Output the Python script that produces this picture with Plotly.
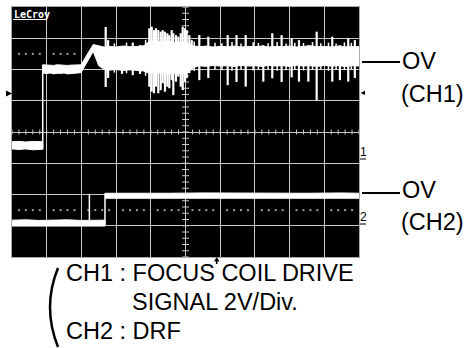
import plotly.graph_objects as go
import numpy as np

# ---------------- data (screen divisions: x 0..10, y -4..4) ----------------
# CH1 before trigger edge
ch1_pre_x = [0.0, 0.2, 0.4, 0.6, 0.885]
ch1_pre_hi = [-0.31, -0.30, -0.32, -0.30, -0.31]
ch1_pre_lo = [-0.54, -0.56, -0.54, -0.57, -0.55]

# CH1 after trigger edge: envelope of the noisy band
ch1_x = [0.885, 1.0, 1.1, 1.2, 1.3, 1.4, 1.5, 1.6, 1.7, 1.8, 1.9, 1.99, 2.34, 2.5, 2.68,
         2.8, 3.0, 3.2, 3.4, 3.6, 3.8, 3.95, 4.1, 4.3, 4.5, 4.7, 4.9, 5.1, 5.2, 5.4,
         5.6, 5.8, 6.0, 6.2, 6.4, 6.6, 6.8, 7.0, 7.2, 7.4, 7.6, 7.8, 8.0, 8.2, 8.4,
         8.6, 8.8, 9.0, 9.2, 9.4, 9.6, 9.8, 10.0]
ch1_hi = [2.15, 2.14, 2.15, 2.13, 2.15, 2.14, 2.15, 2.13, 2.14, 2.15, 2.14, 2.15, 2.80, 2.75, 2.71,
          2.74, 2.72, 2.75, 2.73, 2.74, 2.76, 2.90, 2.92, 2.88, 2.92, 2.86, 2.90, 2.84, 2.76, 2.73,
          2.75, 2.72, 2.74, 2.73, 2.75, 2.72, 2.74, 2.73, 2.75, 2.72, 2.74, 2.73, 2.75, 2.72, 2.74,
          2.76, 2.73, 2.74, 2.72, 2.75, 2.73, 2.74, 2.73]
ch1_lo = [1.89, 1.87, 1.89, 1.86, 1.88, 1.87, 1.89, 1.86, 1.88, 1.87, 1.89, 1.90, 2.58, 2.12, 1.99,
          1.98, 2.00, 1.97, 1.99, 1.98, 1.95, 1.88, 1.86, 1.90, 1.85, 1.88, 1.86, 1.92, 2.05, 2.12,
          2.10, 2.13, 2.11, 2.12, 2.10, 2.13, 2.11, 2.12, 2.10, 2.13, 2.11, 2.12, 2.10, 2.13, 2.11,
          2.12, 2.10, 2.13, 2.11, 2.12, 2.10, 2.12, 2.11]

# CH1 large spikes: position, top, bottom
spike_x = [2.70, 2.77, 3.17, 3.48, 3.69,
           3.957, 4.026, 4.092, 4.150, 4.216, 4.285, 4.343, 4.409, 4.476, 4.533,
           4.602, 4.648, 4.726, 4.793, 4.862, 4.919, 4.986, 5.035, 5.110, 5.179,
           5.398, 5.657, 6.216, 6.47, 6.735, 7.242, 7.501, 7.77, 8.06, 8.27,
           8.54, 8.78, 9.23, 9.45, 9.69, 9.88]
spike_top = [3.36, 2.94, 2.72, 2.86, 2.78,
             3.32, 3.37, 3.26, 3.32, 3.26, 3.21, 3.26, 3.21, 3.16, 3.10,
             3.26, 3.16, 3.10, 3.05, 3.16, 3.37, 3.32, 3.26, 3.10, 2.94,
             3.10, 3.05, 3.10, 3.10, 3.10, 2.78, 3.16, 3.10, 3.00, 2.94,
             2.78, 3.21, 3.05, 2.78, 3.00, 2.94]
spike_bot = [1.44, 1.73, 1.86, 1.82, 1.86,
             1.45, 1.29, 1.24, 1.45, 1.24, 1.34, 1.56, 1.29, 1.45, 1.40,
             1.66, 1.18, 1.61, 1.77, 1.45, 1.34, 1.61, 1.72, 1.88, 1.98,
             1.66, 1.73, 1.50, 1.60, 1.45, 1.61, 1.72, 1.60, 1.75, 1.61,
             1.61, 1.02, 1.61, 1.66, 1.61, 1.73]

# CH1 small noise teeth on the band edges
tooth_x = [2.95, 3.30, 3.85, 5.25, 5.85, 6.05, 6.34, 6.60, 6.95, 7.10, 7.38, 7.64, 7.90,
           8.15, 8.40, 8.66, 8.90, 9.12, 9.34, 9.58, 9.78]
tooth_top = [2.84, 2.86, 2.95, 2.90, 2.86, 2.84, 2.88, 2.83, 2.87, 2.85, 2.84, 2.88, 2.83,
             2.86, 2.85, 2.88, 2.84, 2.86, 2.83, 2.87, 2.85]
tooth_bot = [1.90, 1.88, 1.80, 1.95, 2.00, 1.98, 1.96, 2.01, 1.97, 1.99, 2.00, 1.96, 1.98,
             2.00, 1.97, 1.99, 2.01, 1.96, 1.99, 1.98, 2.00]

# CH2 (DRF)
ch2_pre_x = [0.0, 0.4, 0.8, 1.2, 1.6, 2.0, 2.4, 2.68]
ch2_pre_hi = [-2.82, -2.81, -2.83, -2.82, -2.81, -2.83, -2.82, -2.82]
ch2_pre_lo = [-3.01, -3.00, -3.02, -3.01, -3.00, -3.02, -3.01, -3.01]
ch2_glitch_x = 2.23
ch2_glitch_top = -1.98
ch2_post_x = [2.68, 3.5, 4.5, 5.5, 6.5, 7.5, 8.5, 9.5, 10.0]
ch2_post_hi = [-1.96, -1.95, -1.96, -1.95, -1.96, -1.95, -1.96, -1.95, -1.96]
ch2_post_lo = [-2.12, -2.12, -2.11, -2.12, -2.12, -2.11, -2.12, -2.12, -2.12]

# ---------------- layout geometry ----------------
W, H = 468, 348
PL, PT, PW, PH = 12, 7, 347, 250
def px(x): return (x - PL) / PW
def py(y): return (PT + PH - y) / PH

WHITE = "#ffffff"
GRID = "#c8c8c8"

fig = go.Figure()

def band(xs, hi, lo):
    fig.add_trace(go.Scatter(x=list(xs) + list(xs)[::-1], y=list(hi) + list(lo)[::-1],
                             fill="toself", fillcolor=WHITE, mode="lines",
                             line=dict(color=WHITE, width=1), hoverinfo="skip", showlegend=False))

def segs(xs, y0s, y1s, width):
    X, Y = [], []
    for x, a, b in zip(xs, y0s, y1s):
        X += [x, x, None]
        Y += [a, b, None]
    fig.add_trace(go.Scatter(x=X, y=Y, mode="lines", line=dict(color=WHITE, width=width),
                             hoverinfo="skip", showlegend=False))

# graticule: minor ticks on centre lines and dotted rows
tx, ty = [], []
for v in np.arange(0, 10.001, 0.2):
    tx += [v, v, None]; ty += [-0.08, 0.08, None]
for v in np.arange(-4, 4.001, 0.2):
    tx += [4.9, 5.1, None]; ty += [v, v, None]
fig.add_trace(go.Scatter(x=tx, y=ty, mode="lines", line=dict(color=GRID, width=1),
                         hoverinfo="skip", showlegend=False))
dx = [v for v in np.arange(0.2, 10, 0.2) if abs(v - round(v)) > 0.05]
fig.add_trace(go.Scatter(x=dx * 2, y=[2.5] * len(dx) + [-2.5] * len(dx), mode="markers",
                         marker=dict(symbol="square", size=2, color="#a0a0a0", line=dict(width=0)),
                         hoverinfo="skip", showlegend=False))

# CH1
band(ch1_pre_x, ch1_pre_hi, ch1_pre_lo)
segs([ch1_x[0]], [ch1_pre_lo[-1]], [ch1_hi[0]], 1.5)
band(ch1_x, ch1_hi, ch1_lo)
segs(tooth_x, tooth_top, tooth_bot, 1.5)
segs(spike_x, spike_top, spike_bot, 2.2)

# CH2
band(ch2_pre_x, ch2_pre_hi, ch2_pre_lo)
segs([ch2_glitch_x, ch2_post_x[0]], [ch2_pre_lo[0], ch2_pre_lo[-1]],
     [ch2_glitch_top, ch2_post_hi[0]], 1.5)
band(ch2_post_x, ch2_post_hi, ch2_post_lo)

axis_common = dict(showticklabels=False, ticks="", zeroline=False, showgrid=True,
                   gridcolor=GRID, gridwidth=1, showline=True, linecolor="#a8a8a8",
                   linewidth=1, mirror=True, fixedrange=True)
fig.update_xaxes(range=[0, 10], dtick=1, tick0=0, **axis_common)
fig.update_yaxes(range=[-4, 4], dtick=1, tick0=0, **axis_common)

shapes = []
def line(x0, y0, x1, y1, color="#000000", width=2):
    shapes.append(dict(type="line", xref="paper", yref="paper", x0=px(x0), y0=py(y0),
                       x1=px(x1), y1=py(y1), line=dict(color=color, width=width)))
def path(pts, close=True, fill="#000000", width=0, color="#000000"):
    d = "M " + " L ".join(f"{px(a):.5f},{py(b):.5f}" for a, b in pts) + (" Z" if close else "")
    shapes.append(dict(type="path", xref="paper", yref="paper", path=d,
                       fillcolor=fill, line=dict(color=color, width=width)))

# LeCroy underline
line(13, 19.5, 45, 19.5, color=WHITE, width=1)
# 0V leader lines
line(362, 62, 400, 62)
line(362, 193, 400, 193)
# channel marker underlines
line(360, 159, 366, 159, width=1)
line(360, 224, 366, 224, width=1)
# trigger markers
path([(6, 90.5), (12, 93.5), (6, 96.5)])
path([(365, 90.7), (360.5, 92.9), (365, 95.1)])
path([(214, 261.5), (219.5, 261.5), (216.7, 257)])
line(216.7, 260, 216.7, 264, width=1.5)
# big bracket
shapes.append(dict(type="path", xref="paper", yref="paper",
                   path=f"M {px(58):.5f},{py(268):.5f} Q {px(42):.5f},{py(307):.5f} {px(58):.5f},{py(347):.5f}",
                   line=dict(color="#000000", width=2.5)))

TXT = dict(family="Liberation Sans, Arial, sans-serif", color="#000000")
ann = []
def text(t, x, y, size, xanchor="left", font=None):
    f = dict(TXT); f["size"] = size
    if font: f.update(font)
    ann.append(dict(text=t, x=px(x), y=py(y), xref="paper", yref="paper", xanchor=xanchor,
                    yanchor="middle", showarrow=False, font=f, borderpad=0))

text("<b>LeCroy</b>", 12.5, 14.5, 10, font=dict(family="DejaVu Sans Mono", color=WHITE))
text("OV", 401, 61, 23.5)
text("(CH1)", 400, 94, 23.5)
text("OV", 401, 190, 23.5)
text("(CH2)", 400, 222, 23.5)
text("1", 359.5, 152, 12)
text("2", 359.5, 217, 12)
text("CH1 : FOCUS COIL DRIVE", 65, 272.5, 23.5)
text("SIGNAL 2V/Div.", 131, 301.5, 23.5)
text("CH2 : DRF", 65, 330.5, 23.5)

fig.update_layout(width=W, height=H, margin=dict(l=PL, r=W - PL - PW, t=PT, b=H - PT - PH),
                  paper_bgcolor="#ffffff", plot_bgcolor="#000000", showlegend=False,
                  shapes=shapes, annotations=ann, hovermode=False)

fig.write_html("out.html", config={"displayModeBar": False, "staticPlot": True},
               post_script="document.body.style.margin='0';document.body.style.overflow='hidden';")
